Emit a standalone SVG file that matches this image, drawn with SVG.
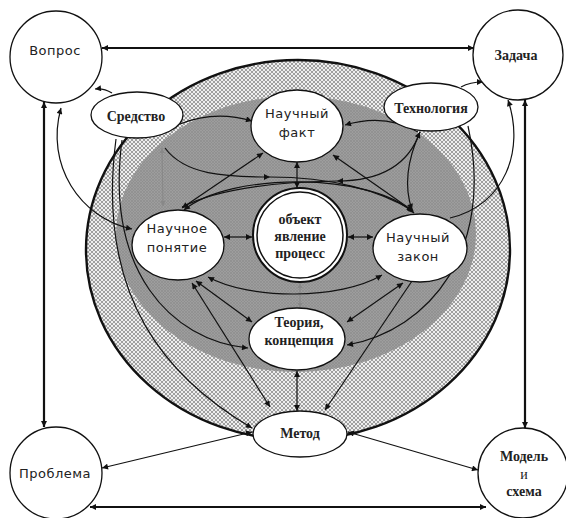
<svg xmlns="http://www.w3.org/2000/svg" width="566" height="518" viewBox="0 0 566 518">
<defs>
<pattern id="stip" width="4" height="4" patternUnits="userSpaceOnUse"><rect width="4" height="4" fill="#eeeeee"/><path d="M0,0 L4,4 M4,0 L0,4" stroke="#8a8a8a" stroke-width="0.8"/></pattern>
<pattern id="grey" width="3" height="3" patternUnits="userSpaceOnUse"><rect width="3" height="3" fill="#9d9d9d"/><path d="M0,0 L3,3 M3,0 L0,3" stroke="#8c8c8c" stroke-width="0.6"/></pattern>
<marker id="ah" viewBox="0 0 10 10" refX="10" refY="5" markerWidth="7" markerHeight="6" markerUnits="userSpaceOnUse" orient="auto-start-reverse"><path d="M0,0 L10,5 L0,10 z" fill="#111"/></marker>
<marker id="ahg" viewBox="0 0 10 10" refX="10" refY="5" markerWidth="6" markerHeight="5" markerUnits="userSpaceOnUse" orient="auto-start-reverse"><path d="M0,0 L10,5 L0,10 z" fill="#888"/></marker>
</defs>
<style>
.node{fill:#fff;stroke:#111;stroke-width:1.3}
.sans{font-family:"DejaVu Sans","Liberation Sans",sans-serif;font-size:13px;fill:#222;text-anchor:middle;letter-spacing:0.5px}
.ser{font-family:"Liberation Serif","Times New Roman",serif;font-size:14px;font-weight:bold;fill:#222;text-anchor:middle}
.c{fill:none;stroke:#111;stroke-width:1.2}
.thick{fill:none;stroke:#111;stroke-width:2.2}
.g{fill:none;stroke:#888;stroke-width:1.1}
.b{marker-start:url(#ah);marker-end:url(#ah)}
.e{marker-end:url(#ah)}
.bg{marker-start:url(#ahg);marker-end:url(#ahg)}
</style>
<rect width="566" height="518" fill="#fff"/>
<g id="background">
<ellipse cx="298" cy="250" rx="212" ry="190" fill="url(#stip)" stroke="#111" stroke-width="2.4"/>
<ellipse cx="296" cy="234" rx="180" ry="138" fill="url(#grey)"/>
</g>
<g id="connectors">
<path class="thick b" d="M102,48 H474"/>
<path class="thick b" d="M44,102 V427"/>
<path class="thick b" d="M525,100 V428"/>
<path class="thick b" d="M90,507 H486"/>
<path class="c b" d="M102,468 L252,432"/>
<path class="c b" d="M348,432 L478,470"/>
<path class="c e" d="M112,93 Q104,88 95,89"/>
<path class="c b" d="M61,108 C45,165 80,218 132,229"/>
<path class="c e" d="M461,87 Q470,82 483,82"/>
<path class="c" style="marker-start:url(#ah)" d="M508,100 C525,150 505,205 450,218"/>
<path class="c e" d="M180,124 Q215,110 252,121"/>
<path class="c e" d="M418,132 Q385,113 345,125"/>
<path class="c b" d="M297,162 V188"/>
<path class="c b" d="M224,237 H252"/>
<path class="c b" d="M348,237 H373"/>
<path class="g bg" d="M300,283 V308"/>
<path class="c b" d="M182,208 L263,153"/>
<path class="c b" d="M413,211 L333,155"/>
<path class="c b" d="M184,210 C230,172 370,172 414,213"/>
<path class="c b" d="M208,277 C250,300 340,300 382,275"/>
<path class="c b" d="M196,281 L252,322"/>
<path class="c b" d="M403,283 L347,322"/>
<path class="g bg" d="M163,206 L162,148"/>
<path class="c e" d="M165,148 C185,175 225,177 270,177"/>
<path class="c e" d="M270,177 C330,177 380,190 413,211"/>
<path class="c e" d="M420,132 C405,175 365,181 337,181"/>
<path class="c" d="M337,181 C270,182 215,190 182,207"/>
<path class="c b" d="M420,132 C405,165 405,190 412,210"/>
<path class="c e" d="M122,140 C105,270 170,340 248,348"/>
<path class="c e" d="M116,139 C95,300 170,380 252,428"/>
<path class="c b" d="M192,283 L270,407"/>
<path class="c b" d="M297,371 V411"/>
<path class="c e" d="M412,281 L325,410"/>
<path class="c e" d="M468,126 C495,250 430,330 347,345"/>
</g>
<g id="vopros"><circle class="node" cx="56" cy="57" r="46"/><text class="sans" x="55" y="55">Вопрос</text></g>
<g id="zadacha"><circle class="node" cx="518" cy="55" r="45"/><text class="ser" x="516" y="60">Задача</text></g>
<g id="problema"><circle class="node" cx="56" cy="473" r="46"/><text class="sans" x="55" y="478">Проблема</text></g>
<g id="model"><circle class="node" cx="523" cy="473" r="45"/><text class="ser" x="524" y="461">Модель</text><text class="ser" x="524" y="479" style="font-weight:normal">и</text><text class="ser" x="524" y="496">схема</text></g>
<g id="sredstvo"><ellipse class="node" cx="137" cy="115" rx="46" ry="23"/><text class="ser" x="136" y="121">Средство</text></g>
<g id="tehnologiya"><ellipse class="node" cx="431" cy="107" rx="47" ry="24"/><text class="ser" x="431" y="113">Технология</text></g>
<g id="fakt"><ellipse class="node" cx="297" cy="126" rx="46" ry="36"/><text class="sans" x="297" y="118">Научный</text><text class="sans" x="297" y="137">факт</text></g>
<g id="ponyatie"><ellipse class="node" cx="178" cy="245" rx="46" ry="35"/><text class="sans" x="177" y="233">Научное</text><text class="sans" x="177" y="252">понятие</text></g>
<g id="zakon"><ellipse class="node" cx="420" cy="248" rx="47" ry="34"/><text class="sans" x="418" y="242">Научный</text><text class="sans" x="418" y="261">закон</text></g>
<g id="obekt"><circle cx="300" cy="235" r="47" fill="#fff" stroke="#111" stroke-width="2"/><circle cx="300" cy="235" r="43" fill="#fff" stroke="#111" stroke-width="1.5"/><text class="ser" x="300" y="224">объект</text><text class="ser" x="300" y="241">явление</text><text class="ser" x="300" y="258">процесс</text></g>
<g id="teoriya"><ellipse class="node" cx="297" cy="339" rx="48" ry="31"/><text class="ser" x="299" y="327">Теория,</text><text class="ser" x="299" y="345">концепция</text></g>
<g id="metod"><ellipse class="node" cx="300" cy="434" rx="47" ry="23"/><text class="ser" x="300" y="438">Метод</text></g>
</svg>
